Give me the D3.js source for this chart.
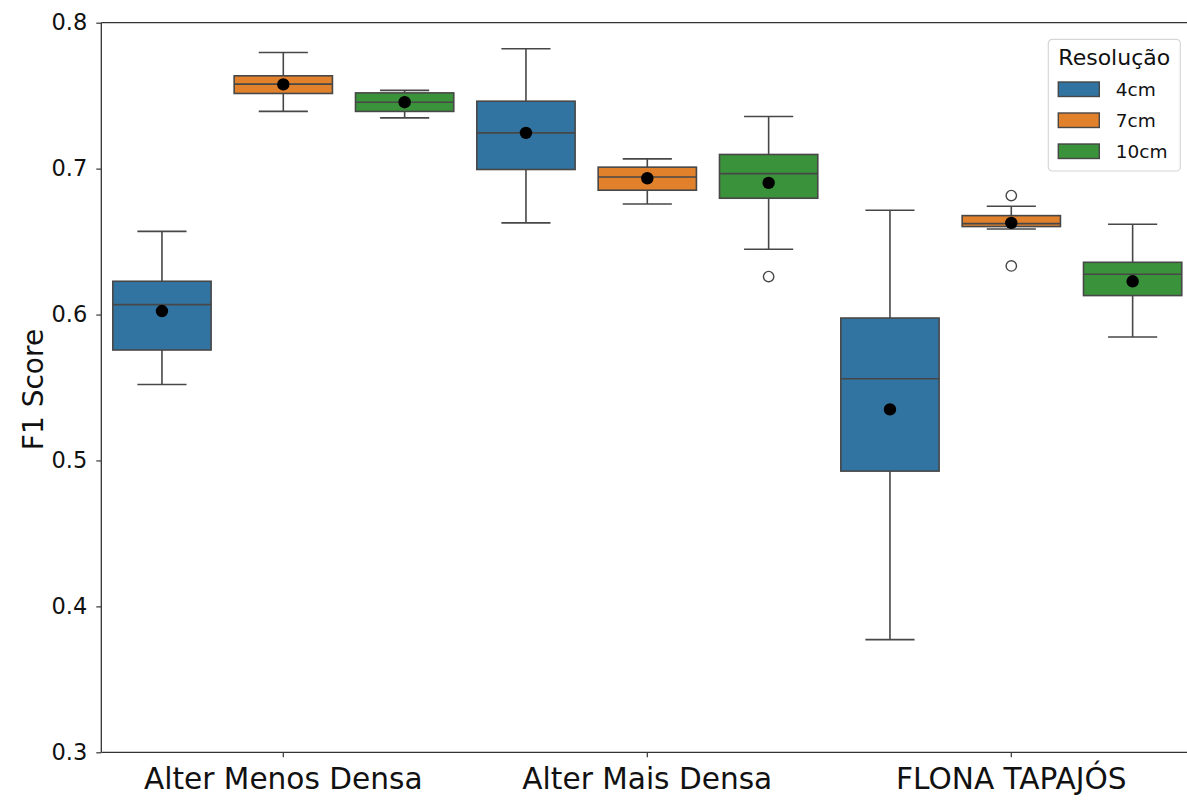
<!DOCTYPE html>
<html>
<head>
<meta charset="utf-8">
<script src="https://cdn.jsdelivr.net/npm/d3@7"></script>
<style>
  body { margin: 0; background: #fff; }
  svg { display: block; font-family: 'DejaVu Sans', sans-serif; }
</style>
</head>
<body>
<svg id="chart" width="1187" height="801"></svg>
<script>
const sites = ['Alter Menos Densa', 'Alter Mais Densa', 'FLONA TAPAJÓS']
const resolutions = ['4cm', '7cm', '10cm']
const colors = ['#3274a1', '#e1812c', '#3a923a']
const yTicks = [0.3, 0.4, 0.5, 0.6, 0.7, 0.8]

// one row per site, one column per resolution (4cm, 7cm, 10cm)
const whiskerLow = [
  [0.5521, 0.7392, 0.7348],
  [0.6628, 0.6758, 0.6447],
  [0.3772, 0.6586, 0.5846]
]
const q1 = [
  [0.5757, 0.7515, 0.7392],
  [0.6994, 0.6852, 0.6797],
  [0.4927, 0.6603, 0.6130]
]
const median = [
  [0.6068, 0.7579, 0.7455],
  [0.7245, 0.6943, 0.6966],
  [0.5560, 0.6623, 0.6276]
]
const q3 = [
  [0.6228, 0.7636, 0.7519],
  [0.7462, 0.7010, 0.7097],
  [0.5976, 0.6678, 0.6358]
]
const whiskerHigh = [
  [0.6570, 0.7796, 0.7536],
  [0.7821, 0.7067, 0.7357],
  [0.6715, 0.6742, 0.6619]
]
const means = [
  [0.6024, 0.7577, 0.7455],
  [0.7245, 0.6934, 0.6902],
  [0.5350, 0.6628, 0.6228]
]
const outliers = [
  [[], [], []],
  [[], [], [0.626]],
  [[], [0.6815, 0.6333], []]
]

const margin = { top: 22.7, left: 101.3, bottom: 48.7 }
const plotRight = 1193.3
const svg = d3.select('#chart')
const height = +svg.attr('height')

const x = d3.scaleBand()
  .domain(sites)
  .range([margin.left, plotRight])
  .padding(0)

const xHue = d3.scaleBand()
  .domain(resolutions)
  .range([0, x.bandwidth()])
  .paddingInner(0.19)
  .paddingOuter(0.095)

const y = d3.scaleLinear()
  .domain([0.3, 0.8])
  .range([height - margin.bottom, margin.top])

const lineColor = '#474747'

// build rows
const boxes = []
sites.forEach((site, i) => {
  resolutions.forEach((res, j) => {
    boxes.push({
      site, res, color: colors[j],
      lo: whiskerLow[i][j], q1: q1[i][j], med: median[i][j],
      q3: q3[i][j], hi: whiskerHigh[i][j], mean: means[i][j],
      out: outliers[i][j]
    })
  })
})

// axes
const yAxis = svg.append('g')
  .attr('transform', `translate(${margin.left},0)`)
  .call(d3.axisLeft(y).tickValues(yTicks).tickFormat(d3.format('.1f')).tickSize(5).tickPadding(9))
yAxis.select('.domain').remove()
yAxis.selectAll('line').attr('stroke', '#333').attr('stroke-width', 1.2)
yAxis.selectAll('text').attr('font-size', 22.5).attr('fill', '#111').attr('font-family', 'DejaVu Sans')

const xAxis = svg.append('g')
  .attr('transform', `translate(0,${y(0.3)})`)
  .call(d3.axisBottom(x).tickSize(5).tickPadding(11))
xAxis.select('.domain').remove()
xAxis.selectAll('line').attr('stroke', '#333').attr('stroke-width', 1.2)
xAxis.selectAll('text').attr('font-size', 29.6).attr('fill', '#111').attr('font-family', 'DejaVu Sans')

// boxes
const g = svg.append('g')
const box = g.selectAll('g.box')
  .data(boxes)
  .enter()
  .append('g')
  .attr('class', 'box')
  .attr('transform', (d) => `translate(${x(d.site) + xHue(d.res)},0)`)

const bw = xHue.bandwidth()

box.append('line')
  .attr('x1', bw / 2).attr('x2', bw / 2)
  .attr('y1', (d) => y(d.hi)).attr('y2', (d) => y(d.q3))
  .attr('stroke', lineColor).attr('stroke-width', 1.6)
box.append('line')
  .attr('x1', bw / 2).attr('x2', bw / 2)
  .attr('y1', (d) => y(d.q1)).attr('y2', (d) => y(d.lo))
  .attr('stroke', lineColor).attr('stroke-width', 1.6)
box.append('line')
  .attr('x1', bw / 4).attr('x2', bw * 3 / 4)
  .attr('y1', (d) => y(d.hi)).attr('y2', (d) => y(d.hi))
  .attr('stroke', lineColor).attr('stroke-width', 1.6)
box.append('line')
  .attr('x1', bw / 4).attr('x2', bw * 3 / 4)
  .attr('y1', (d) => y(d.lo)).attr('y2', (d) => y(d.lo))
  .attr('stroke', lineColor).attr('stroke-width', 1.6)
box.append('rect')
  .attr('x', 0).attr('width', bw)
  .attr('y', (d) => y(d.q3))
  .attr('height', (d) => y(d.q1) - y(d.q3))
  .attr('fill', (d) => d.color)
  .attr('stroke', lineColor).attr('stroke-width', 1.6)
box.append('line')
  .attr('x1', 0).attr('x2', bw)
  .attr('y1', (d) => y(d.med)).attr('y2', (d) => y(d.med))
  .attr('stroke', lineColor).attr('stroke-width', 1.6)
box.selectAll('circle.out')
  .data((d) => d.out)
  .enter()
  .append('circle')
  .attr('class', 'out')
  .attr('cx', bw / 2)
  .attr('cy', (v) => y(v))
  .attr('r', 5.2)
  .attr('fill', 'none')
  .attr('stroke', lineColor).attr('stroke-width', 1.4)
box.append('circle')
  .attr('cx', bw / 2)
  .attr('cy', (d) => y(d.mean))
  .attr('r', 6.2)
  .attr('fill', '#000')

// frame (left, bottom, top spines)
svg.append('line')
  .attr('x1', margin.left).attr('x2', margin.left)
  .attr('y1', y(0.8)).attr('y2', y(0.3))
  .attr('stroke', '#333').attr('stroke-width', 1.3)
svg.append('line')
  .attr('x1', margin.left).attr('x2', plotRight)
  .attr('y1', y(0.3)).attr('y2', y(0.3))
  .attr('stroke', '#333').attr('stroke-width', 1.3)
svg.append('line')
  .attr('x1', margin.left).attr('x2', plotRight)
  .attr('y1', y(0.8)).attr('y2', y(0.8))
  .attr('stroke', '#333').attr('stroke-width', 1.3)

// y label
svg.append('text')
  .attr('transform', `translate(43,${(y(0.3) + y(0.8)) / 2 + 2}) rotate(-90)`)
  .attr('text-anchor', 'middle')
  .attr('font-size', 28)
  .attr('fill', '#111')
  .text('F1 Score')

// legend
const legend = svg.append('g').attr('transform', 'translate(1048.3,39.3)')
legend.append('rect')
  .attr('width', 132).attr('height', 131.7)
  .attr('rx', 4)
  .attr('fill', '#fff').attr('fill-opacity', 0.8)
  .attr('stroke', '#d6d6d6').attr('stroke-width', 1.2)
legend.append('text')
  .attr('x', 66).attr('y', 25.5)
  .attr('text-anchor', 'middle')
  .attr('font-size', 22)
  .attr('fill', '#111')
  .text('Resolução')
const item = legend.selectAll('g.item')
  .data(resolutions)
  .enter()
  .append('g')
  .attr('class', 'item')
  .attr('transform', (d, i) => `translate(0,${42.7 + i * 31})`)
item.append('rect')
  .attr('x', 10).attr('width', 41).attr('height', 14.5)
  .attr('fill', (d, i) => colors[i])
  .attr('stroke', lineColor).attr('stroke-width', 1.4)
item.append('text')
  .attr('x', 67.4).attr('y', 14)
  .attr('font-size', 18.5)
  .attr('fill', '#111')
  .text((d) => d)
</script>
</body>
</html>
